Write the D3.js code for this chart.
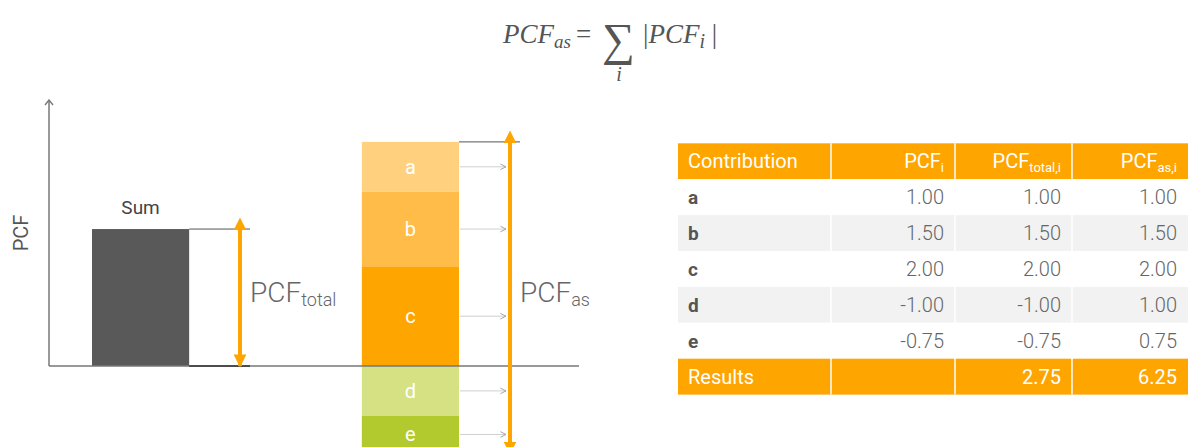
<!DOCTYPE html>
<html>
<head>
<meta charset="utf-8">
<script src="https://cdn.jsdelivr.net/npm/d3@7"></script>
<style>
  html, body { margin: 0; padding: 0; background: #fff; }
  svg { display: block; }
  text { font-family: Roboto, "Open Sans", "Liberation Sans", sans-serif; }
  text.math { font-family: "Liberation Serif", "DejaVu Serif", serif; }
</style>
</head>
<body>
<svg id="chart" width="1189" height="447"></svg>
<script>
// ---- data ----
const contributions = ["a", "b", "c", "d", "e"];
const pcfValues      = [1.00, 1.50, 2.00, -1.00, -0.75];
const pcfTotalValues = [1.00, 1.50, 2.00, -1.00, -0.75];
const pcfAsValues    = [1.00, 1.50, 2.00, 1.00, 0.75];
const resultValues   = [null, 2.75, 6.25];
const barCategories  = ["Sum", "Contributions"];
const segmentColors  = ["#FFD17F", "#FFBC48", "#FFA500", "#D5E183", "#B3CA2E"];

const svg = d3.select("#chart");
const orange = "#FFA500";

// ---- scales ----
const y = d3.scaleLinear().domain([-1.75, 4.5]).range([366 + 1.75 * 49.8, 366 - 4.5 * 49.8]);
const x = d3.scaleBand().domain(barCategories).range([92, 459]).paddingInner(0.64).paddingOuter(0);
const bw = x.bandwidth();

// arrow markers
const defs = svg.append("defs");
defs.append("marker").attr("id", "oEnd").attr("viewBox", "0 0 10 10")
  .attr("refX", 9).attr("refY", 5).attr("markerWidth", 3.2).attr("markerHeight", 3.2)
  .attr("markerUnits", "strokeWidth").attr("orient", "auto")
  .append("path").attr("d", "M0,0 L10,5 L0,10 Z").attr("fill", orange);
defs.append("marker").attr("id", "oStart").attr("viewBox", "0 0 10 10")
  .attr("refX", 1).attr("refY", 5).attr("markerWidth", 3.2).attr("markerHeight", 3.2)
  .attr("markerUnits", "strokeWidth").attr("orient", "auto-start-reverse")
  .append("path").attr("d", "M0,0 L10,5 L0,10 Z").attr("fill", orange);
defs.append("marker").attr("id", "gEnd").attr("viewBox", "0 0 10 10")
  .attr("refX", 9).attr("refY", 5).attr("markerWidth", 7).attr("markerHeight", 8)
  .attr("markerUnits", "userSpaceOnUse").attr("orient", "auto")
  .append("path").attr("d", "M1,1 L9,5 L1,9").attr("fill", "none").attr("stroke", "#9a9a9a").attr("stroke-width", 1.3);
defs.append("marker").attr("id", "axEnd").attr("viewBox", "0 0 10 10")
  .attr("refX", 5).attr("refY", 1).attr("markerWidth", 10).attr("markerHeight", 10)
  .attr("markerUnits", "userSpaceOnUse").attr("orient", "0")
  .append("path").attr("d", "M1,6 L5,1 L9,6").attr("fill", "none").attr("stroke", "#777").attr("stroke-width", 1.4);

// ---- formula ----
const fg = svg.append("g").attr("fill", "#555");
const f1 = fg.append("text").attr("class", "math").attr("x", 503).attr("y", 43).attr("font-size", 27).attr("font-style", "italic");
f1.append("tspan").text("PCF");
f1.append("tspan").attr("font-size", 19).attr("dy", 5).text("as");
fg.append("text").attr("class", "math").attr("x", 576).attr("y", 43).attr("font-size", 27).text("=");
fg.append("text").attr("class", "math").attr("x", 618.5).attr("y", 55).attr("font-size", 46).attr("text-anchor", "middle").text("∑");
fg.append("text").attr("class", "math").attr("x", 619).attr("y", 81).attr("font-size", 20).attr("font-style", "italic").attr("text-anchor", "middle").text("i");
const f2 = fg.append("text").attr("class", "math").attr("x", 643).attr("y", 43).attr("font-size", 27);
f2.append("tspan").text("|");
f2.append("tspan").attr("font-style", "italic").text("PCF");
f2.append("tspan").attr("font-style", "italic").attr("font-size", 20).attr("dy", 5).text("i");
f2.append("tspan").attr("dy", -5).text(" |");

// ---- left chart ----
const sumValue = d3.sum(pcfTotalValues);
const g = svg.append("g");

// sum bar
g.append("rect").attr("x", x("Sum")).attr("width", bw)
  .attr("y", y(sumValue)).attr("height", y(0) - y(sumValue)).attr("fill", "#595959");
g.append("text").attr("x", x("Sum") + bw / 2).attr("y", y(sumValue) - 15)
  .attr("text-anchor", "middle").attr("font-size", 19).attr("fill", "#444").text("Sum");

// stacked contributions: positives stacked upward (last first), negatives downward
const segs = [];
let pos = 0;
for (let i = contributions.length - 1; i >= 0; i--) {
  if (pcfValues[i] > 0) { segs[i] = { y0: pos, y1: pos + pcfValues[i] }; pos += pcfValues[i]; }
}
let neg = 0;
for (let i = 0; i < contributions.length; i++) {
  if (pcfValues[i] < 0) { segs[i] = { y0: neg + pcfValues[i], y1: neg }; neg += pcfValues[i]; }
}
const sx = x("Contributions");
const segData = contributions.map((c, i) => ({ c, color: segmentColors[i], ...segs[i] }));
g.selectAll("rect.seg").data(segData).join("rect").attr("class", "seg")
  .attr("x", sx).attr("width", bw)
  .attr("y", d => y(d.y1)).attr("height", d => y(d.y0) - y(d.y1)).attr("fill", d => d.color);
g.selectAll("text.seg").data(segData).join("text").attr("class", "seg")
  .attr("x", sx + bw / 2).attr("y", d => (y(d.y0) + y(d.y1)) / 2 + 7)
  .attr("text-anchor", "middle").attr("font-size", 20).attr("fill", "#fff").text(d => d.c);
g.selectAll("line.garr").data(segData).join("line").attr("class", "garr")
  .attr("x1", sx + bw + 1).attr("x2", sx + bw + 47)
  .attr("y1", d => (y(d.y0) + y(d.y1)) / 2).attr("y2", d => (y(d.y0) + y(d.y1)) / 2)
  .attr("stroke", "#cfcfcf").attr("stroke-width", 1).attr("marker-end", "url(#gEnd)");

// reference lines
g.append("line").attr("x1", x("Sum") + bw).attr("x2", 250).attr("y1", y(sumValue)).attr("y2", y(sumValue))
  .attr("stroke", "#555").attr("stroke-width", 1);
g.append("line").attr("x1", sx + bw).attr("x2", 520).attr("y1", y(pos)).attr("y2", y(pos))
  .attr("stroke", "#555").attr("stroke-width", 1);

// axes
g.append("line").attr("x1", 49).attr("x2", 579).attr("y1", y(0)).attr("y2", y(0))
  .attr("stroke", "#777").attr("stroke-width", 1.5);
g.append("line").attr("x1", x("Sum") + bw).attr("x2", 250).attr("y1", y(0)).attr("y2", y(0))
  .attr("stroke", "#333").attr("stroke-width", 1.5);
g.append("line").attr("x1", 49).attr("x2", 49).attr("y1", y(0)).attr("y2", 100)
  .attr("stroke", "#777").attr("stroke-width", 1.5).attr("marker-end", "url(#axEnd)");
g.append("text").attr("transform", "translate(27.5,233) rotate(-90)").attr("text-anchor", "middle")
  .attr("font-size", 20).attr("fill", "#555").text("PCF");

// orange double arrows
g.append("line").attr("x1", 240).attr("x2", 240).attr("y1", y(sumValue)).attr("y2", y(0))
  .attr("stroke", orange).attr("stroke-width", 4)
  .attr("marker-start", "url(#oStart)").attr("marker-end", "url(#oEnd)");
g.append("line").attr("x1", 510).attr("x2", 510).attr("y1", y(pos)).attr("y2", y(neg))
  .attr("stroke", orange).attr("stroke-width", 4)
  .attr("marker-start", "url(#oStart)").attr("marker-end", "url(#oEnd)");

const t1 = g.append("text").attr("x", 250).attr("y", 302).attr("font-size", 28).attr("font-weight", 300).attr("fill", "#666");
t1.append("tspan").text("PCF");
t1.append("tspan").attr("font-size", 18).attr("dy", 4).text("total");
const t2 = g.append("text").attr("x", 520).attr("y", 302).attr("font-size", 28).attr("font-weight", 300).attr("fill", "#666");
t2.append("tspan").text("PCF");
t2.append("tspan").attr("font-size", 18).attr("dy", 4).text("as");

// ---- table ----
const colEdges = [678, 831, 955, 1072, 1188];
const rowTop = 143.3, rowH = 35.9;
const tg = svg.append("g");
const nRows = contributions.length + 2;
for (let r = 0; r < nRows; r++) {
  const fill = (r === 0 || r === nRows - 1) ? orange : (r % 2 === 0 ? "#F2F2F2" : "#FFFFFF");
  for (let c = 0; c < 4; c++) {
    tg.append("rect").attr("x", colEdges[c]).attr("y", rowTop + r * rowH)
      .attr("width", colEdges[c + 1] - colEdges[c]).attr("height", rowH).attr("fill", fill);
  }
}
// white separators
for (let c = 1; c < 4; c++) {
  tg.append("line").attr("x1", colEdges[c]).attr("x2", colEdges[c]).attr("y1", rowTop).attr("y2", rowTop + nRows * rowH)
    .attr("stroke", "#fff").attr("stroke-width", 1.5);
}
const baseY = r => rowTop + r * rowH + rowH / 2 + 7;
const rightX = c => colEdges[c + 1] - 11;

// header
tg.append("text").attr("x", 688).attr("y", baseY(0)).attr("font-size", 20).attr("fill", "#fff").text("Contribution");
const headSubs = ["i", "total,i", "as,i"];
headSubs.forEach((s, i) => {
  const t = tg.append("text").attr("x", rightX(i + 1)).attr("y", baseY(0)).attr("text-anchor", "end")
    .attr("font-size", 20).attr("fill", "#fff");
  t.append("tspan").text("PCF");
  t.append("tspan").attr("font-size", 13).attr("dy", 4).text(s);
});
// body
const fmt = d3.formatLocale({ decimal: ".", thousands: ",", grouping: [3], currency: ["", ""], minus: "-" }).format(".2f");
contributions.forEach((c, i) => {
  const r = i + 1;
  tg.append("text").attr("x", 688).attr("y", baseY(r)).attr("font-size", 19).attr("font-weight", 700)
    .attr("fill", "#555").text(c);
  [pcfValues[i], pcfTotalValues[i], pcfAsValues[i]].forEach((v, k) => {
    tg.append("text").attr("x", rightX(k + 1)).attr("y", baseY(r)).attr("text-anchor", "end")
      .attr("font-size", 20).attr("font-weight", 300).attr("fill", "#666").text(fmt(v));
  });
});
// results row
const rr = nRows - 1;
tg.append("text").attr("x", 688).attr("y", baseY(rr)).attr("font-size", 20).attr("fill", "#fff").text("Results");
resultValues.forEach((v, k) => {
  if (v == null) return;
  tg.append("text").attr("x", rightX(k + 1)).attr("y", baseY(rr)).attr("text-anchor", "end")
    .attr("font-size", 20).attr("fill", "#fff").text(fmt(v));
});
</script>
</body>
</html>
